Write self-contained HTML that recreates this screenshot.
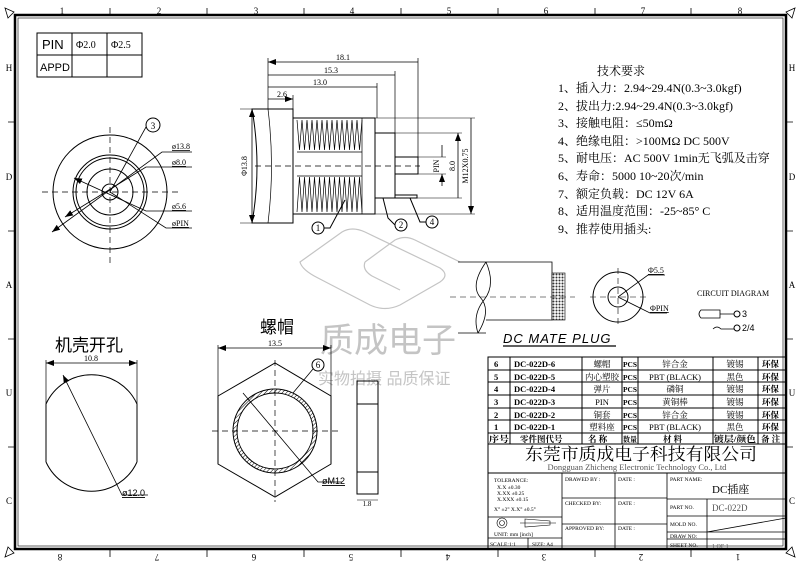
<!DOCTYPE html>
<html><head><meta charset="utf-8"><style>
html,body{margin:0;padding:0;background:#fff;}
svg{display:block;}
text{font-family:"Liberation Serif","Noto Serif CJK SC",serif;}
.s{font-family:"Liberation Sans","Noto Sans CJK SC",sans-serif;}
</style></head><body>
<svg width="800" height="565" viewBox="0 0 800 565" xmlns="http://www.w3.org/2000/svg" fill="#000">
<defs>
<pattern id="kn" width="3" height="3" patternUnits="userSpaceOnUse"><rect width="3" height="3" fill="#fff"/><circle cx="1.5" cy="1.5" r="1" fill="#333"/></pattern>
<pattern id="ht" width="3" height="3" patternUnits="userSpaceOnUse" patternTransform="rotate(45)"><rect width="3" height="3" fill="#fff"/><line x1="0" y1="0" x2="0" y2="3" stroke="#000" stroke-width="1"/></pattern>
<marker id="a" markerWidth="8" markerHeight="6" refX="8" refY="3" orient="auto-start-reverse" markerUnits="userSpaceOnUse"><path d="M0,0 L8,3 L0,6z" fill="#000"/></marker>
</defs>
<!-- watermark -->
<g fill="none" stroke="#c4c4c4" stroke-width="1.2">
<path d="M300,262 L342,232 Q352,226 365,232 L440,268 Q450,275 440,282 L400,305 Q385,312 370,305 L318,278 Q302,270 300,262z"/>
<path d="M365,262 L395,240 Q405,235 415,240 L460,262 M365,262 Q362,270 372,276 L400,290"/>
</g>
<text x="320" y="352" font-size="34" class="s" fill="#c4c4c4">质成电子</text>
<text x="318" y="384" font-size="16" class="s" fill="#c4c4c4">实物拍摄 品质保证</text>
<g fill="none" stroke="#000" stroke-width="1">
<!-- border -->
<rect x="15" y="15" width="771" height="534" stroke-width="2.5"/>
<rect x="18" y="18" width="765" height="528" stroke-width="0.6"/>
<path d="M5,8 L14,12 L8,18z M795,8 L786,12 L792,18z M5,557 L14,553 L8,547z M795,557 L786,553 L792,547z" stroke-width="0.8"/>
<path d="M110,8v7 M207,8v7 M304,8v7 M401,8v7 M498,8v7 M595,8v7 M691,8v7 M110,550v7 M207,550v7 M304,550v7 M401,550v7 M498,550v7 M595,550v7 M691,550v7
M8,122h7 M8,231h7 M8,339h7 M8,447h7 M786,122h7 M786,231h7 M786,339h7 M786,447h7" stroke-width="0.8"/>
<!-- PIN table -->
<rect x="37" y="33" width="105" height="44"/>
<path d="M72,33v44 M107,33v44 M37,55h105"/>
<!-- front view -->
<circle cx="110" cy="192" r="57"/>
<circle cx="110" cy="192" r="37"/>
<circle cx="110" cy="192" r="34"/>
<circle cx="110" cy="192" r="23"/>
<circle cx="110" cy="192" r="8"/>
<path d="M42,192h136 M110,127v136" stroke-dasharray="6,4" stroke-width="0.7"/>
<path d="M110,192 L146,127" stroke-width="0.8"/>
<path d="M52,232 L162,152 H192" marker-start="url(#a)" stroke-width="0.8"/>
<path d="M65,217 L146,167 H192" marker-start="url(#a)" stroke-width="0.8"/>
<path d="M74,178 L146,211 H192" marker-start="url(#a)" stroke-width="0.8"/>
<path d="M110,192 L166,228 H192" stroke-width="0.8"/>
<!-- side view -->
<path d="M252,109 H293 V223 H252 Q262,166 252,109z"/>
<path d="M268,109 Q275,166 268,223" stroke-width="0.7"/>
<rect x="293" y="118" width="82" height="96"/>
<path d="M297,120 l2.5,30 l2.5,-30 l2.5,30 l2.5,-30 l2.5,30 l2.5,-30 l2.5,30 l2.5,-30 l2.5,30 l2.5,-30 l2.5,30 l2.5,-30 l2.5,30 l2.5,-30 l2.5,30 l2.5,-30 l2.5,30 l2.5,-30 l2.5,30 l2.5,-30 l2.5,30 l2.5,-30 l2.5,30 l2.5,-30 l2.5,30 l2.5,-30" stroke-width="0.7"/>
<path d="M297,212 l2.5,-35 l2.5,35 l2.5,-35 l2.5,35 l2.5,-35 l2.5,35 l2.5,-35 l2.5,35 l2.5,-35 l2.5,35 l2.5,-35 l2.5,35 l2.5,-35 l2.5,35 l2.5,-35 l2.5,35 l2.5,-35 l2.5,35 l2.5,-35 l2.5,35 l2.5,-35 l2.5,35 l2.5,-35 l2.5,35 l2.5,-35 l2.5,35" stroke-width="0.7"/>
<path d="M297,152 H362 M297,176 H362 M362,118 V214" stroke-width="0.7"/>
<rect x="375" y="133" width="20" height="65"/>
<rect x="395" y="157" width="23" height="17"/>
<rect x="395" y="195" width="22" height="3"/>
<path d="M255,166 H420" stroke-dasharray="6,4" stroke-width="0.7"/>
<!-- dims -->
<path d="M268,109 V58 M418,157 V58 M395,133 V71 M377,118 V83 M293,109 V95" stroke-width="0.7"/>
<path d="M268,62 H418 M268,75 H395 M268,87 H377 M268,99 H293" marker-start="url(#a)" marker-end="url(#a)" stroke-width="0.8"/>
<path d="M252,109 V223" marker-start="url(#a)" marker-end="url(#a)" stroke-width="0.8"/>
<path d="M240,109 H293 M240,223 H293" stroke-width="0.6"/>
<path d="M418,157 H446 M418,174 H446 M395,133 H462 M395,198 H462 M375,118 H475 M375,214 H475" stroke-width="0.6"/>
<path d="M442,145 V157 M442,186 V174" marker-end="url(#a)" stroke-width="0.8"/>
<path d="M458,133 V198 M471,118 V214" marker-start="url(#a)" marker-end="url(#a)" stroke-width="0.8"/>
<!-- balloons -->
<circle cx="318" cy="228" r="6"/><path d="M324,228 H330 L345,200"/>
<circle cx="401" cy="225" r="6"/><path d="M395,225 L388,218 L383,198"/>
<circle cx="432" cy="222" r="6"/><path d="M426,222 H420 L410,198"/>
<circle cx="153" cy="125" r="7"/>
<!-- DC plug -->
<path d="M486,262 H552 V320 H486 M486,262 Q470,285 480,297 Q492,310 478,333 M486,262 Q496,285 484,300 Q472,315 478,333 M458,262 H486 M458,333 H486" stroke-width="0.8"/>
<rect x="552" y="273" width="13" height="47" fill="url(#kn)" stroke-width="0.6"/>
<path d="M450,297 H575 M590,297 H648 M618,268 V328" stroke-dasharray="6,4" stroke-width="0.6"/>
<circle cx="618" cy="297" r="25"/>
<circle cx="618" cy="297" r="10"/>
<path d="M618,297 L648,275 H665 M618,297 L650,313 H667" stroke-width="0.8"/>
<path d="M701,310 H720 V318 H701 Q697,314 701,310z M720,314 H734" stroke-width="0.8"/>
<circle cx="737" cy="314" r="3"/>
<path d="M713,329 q4,-4 8,0 H734" stroke-width="0.8"/><circle cx="737" cy="328" r="3"/>
<path d="M503,346 H616" stroke-width="1.2"/>
<!-- lower left -->
<path d="M46,404 A50,50 0 0 1 137,404 M46,462 A50,50 0 0 0 137,462 M46,404 V462 M137,404 V462"/>
<path d="M46,360 V404 M137,360 V404" stroke-width="0.7"/>
<path d="M46,363 H137" marker-start="url(#a)" marker-end="url(#a)" stroke-width="0.8"/>
<path d="M63,375 L122,495 H148" marker-start="url(#a)" stroke-width="0.8"/>
<path d="M218,396 L275,363 L331,396 V464 L275,497 L218,464z"/>
<circle cx="275" cy="431" r="42" fill="url(#ht)"/>
<circle cx="275" cy="431" r="38" fill="#fff"/>
<path d="M212,431 H338 M275,360 V502" stroke-dasharray="6,4" stroke-width="0.7"/>
<path d="M218,345 V396 M331,345 V396" stroke-width="0.7"/>
<path d="M218,348 H331" marker-start="url(#a)" marker-end="url(#a)" stroke-width="0.8"/>
<path d="M243,393 L318,482 H342" stroke-width="0.8"/>
<circle cx="318" cy="365" r="6"/><path d="M313,369 L293,393" stroke-width="0.8"/>
<rect x="357" y="381" width="21" height="113"/>
<path d="M357,404 H378 M357,472 H378"/>
<path d="M357,500 H378" stroke-width="0.6"/>
<!-- parts table -->
<rect x="488" y="357" width="298" height="192"/>
<path d="M488,370 H786 M488,382 H786 M488,395 H786 M488,408 H786 M488,420 H786 M488,433 H786 M488,444 H786 M488,473 H786"/>
<path d="M510,357 V444 M582,357 V444 M622,357 V444 M638,357 V444 M713,357 V444 M758,357 V444"/>
<path d="M562,473 V549 M615,473 V549 M667,473 V549 M562,498 H667 M562,524 H667 M667,499 H786 M667,516 H786 M667,532 H786 M667,539 H786 M707,499 V549 M488,517 H562 M488,538 H562 M528,538 V549 M707,532 L786,518" stroke-width="0.8"/>
</g>
<!-- texts -->
<g font-size="11">
<text x="42" y="49" class="s" font-size="13">PIN</text>
<text x="76" y="48" font-size="10">Φ2.0</text>
<text x="111" y="48" font-size="10">Φ2.5</text>
<text x="40" y="71" class="s" font-size="11">APPD</text>
<text x="153" y="129" font-size="9" text-anchor="middle">3</text>
<g font-size="8" text-decoration="underline"><text x="172" y="149">ø13.8</text><text x="172" y="165">ø8.0</text><text x="172" y="209">ø5.6</text><text x="172" y="226">øPIN</text></g>
<g font-size="8" text-anchor="middle"><text x="343" y="60">18.1</text><text x="331" y="73">15.3</text><text x="320" y="85">13.0</text><text x="282" y="97">2.6</text></g>
<text font-size="8" transform="translate(247,166) rotate(-90)" text-anchor="middle">Φ13.8</text>
<text font-size="8" transform="translate(439,166) rotate(-90)" text-anchor="middle">PIN</text>
<text font-size="8" transform="translate(455,166) rotate(-90)" text-anchor="middle">8.0</text>
<text font-size="8" transform="translate(468,166) rotate(-90)" text-anchor="middle">M12X0.75</text>
<g font-size="9" text-anchor="middle"><text x="318" y="231">1</text><text x="401" y="228">2</text><text x="432" y="225">4</text><text x="318" y="368">6</text></g>
<text x="597" y="75" font-size="12">技术要求</text>
<g font-size="12"><text x="558" y="92">1、插入力：2.94~29.4N(0.3~3.0kgf)</text>
<text x="558" y="110">2、拔出力:2.94~29.4N(0.3~3.0kgf)</text>
<text x="558" y="127">3、接触电阻：≤50mΩ</text>
<text x="558" y="145">4、绝缘电阻：&gt;100MΩ  DC  500V</text>
<text x="558" y="162">5、耐电压：AC  500V  1min无飞弧及击穿</text>
<text x="558" y="180">6、寿命：5000 10~20次/min</text>
<text x="558" y="198">7、额定负载：DC  12V  6A</text>
<text x="558" y="215">8、适用温度范围：-25~85° C</text>
<text x="558" y="233">9、推荐使用插头:</text></g>
<g font-size="8" text-decoration="underline"><text x="648" y="273">Φ5.5</text><text x="650" y="311">ΦPIN</text></g>
<text x="697" y="296" font-size="8">CIRCUIT DIAGRAM</text>
<text x="742" y="317" font-size="9" class="s">3</text>
<text x="742" y="331" font-size="9" class="s">2/4</text>
<text x="503" y="343" font-size="13" class="s" font-style="italic" letter-spacing="1">DC MATE PLUG</text>
<text x="55" y="351" font-size="17" class="s">机壳开孔</text>
<text x="91" y="361" font-size="8" text-anchor="middle">10.8</text>
<text x="122" y="496" font-size="9" class="s" text-decoration="underline">ø12.0</text>
<text x="260" y="333" font-size="17" class="s">螺帽</text>
<text x="275" y="346" font-size="8" text-anchor="middle">13.5</text>
<text x="322" y="484" font-size="9" class="s" text-decoration="underline">øM12</text>
<text x="367" y="506" font-size="7" text-anchor="middle">1.8</text>
<!-- table text -->
<g font-size="9">
<g class="s" font-weight="bold" font-size="8.5"><text x="494" y="367">6</text><text x="494" y="380">5</text><text x="494" y="392">4</text><text x="494" y="405">3</text><text x="494" y="418">2</text><text x="494" y="430">1</text>
<text x="514" y="367">DC-022D-6</text><text x="514" y="380">DC-022D-5</text><text x="514" y="392">DC-022D-4</text><text x="514" y="405">DC-022D-3</text><text x="514" y="418">DC-022D-2</text><text x="514" y="430">DC-022D-1</text>
<g font-size="7.5"><text x="623" y="367" textLength="14" lengthAdjust="spacingAndGlyphs">PCS</text><text x="623" y="380" textLength="14" lengthAdjust="spacingAndGlyphs">PCS</text><text x="623" y="392" textLength="14" lengthAdjust="spacingAndGlyphs">PCS</text><text x="623" y="405" textLength="14" lengthAdjust="spacingAndGlyphs">PCS</text><text x="623" y="418" textLength="14" lengthAdjust="spacingAndGlyphs">PCS</text><text x="623" y="430" textLength="14" lengthAdjust="spacingAndGlyphs">PCS</text>
<text x="623" y="442" textLength="14" lengthAdjust="spacingAndGlyphs">数量</text></g>
<text x="762" y="367">环保</text><text x="762" y="380">环保</text><text x="762" y="392">环保</text><text x="762" y="405">环保</text><text x="762" y="418">环保</text><text x="762" y="430">环保</text>
<text x="489" y="442" textLength="20" lengthAdjust="spacingAndGlyphs">序号</text><text x="520" y="442">零件图代号</text><text x="588" y="442">名 称</text><text x="663" y="442">材 料</text><text x="714" y="442" textLength="42" lengthAdjust="spacingAndGlyphs">镀层/颜色</text><text x="761" y="442">备 注</text></g>
<g text-anchor="middle" font-size="8.5"><text x="602" y="367">螺帽</text><text x="602" y="380">内心塑胶</text><text x="602" y="392">弹片</text><text x="602" y="405">PIN</text><text x="602" y="418">铜套</text><text x="602" y="430">塑料座</text>
<text x="675" y="367">锌合金</text><text x="675" y="380">PBT (BLACK)</text><text x="675" y="392">磷铜</text><text x="675" y="405">黄铜棒</text><text x="675" y="418">锌合金</text><text x="675" y="430">PBT (BLACK)</text>
<text x="735" y="367">镀锡</text><text x="735" y="380">黑色</text><text x="735" y="392">镀锡</text><text x="735" y="405">镀锡</text><text x="735" y="418">镀锡</text><text x="735" y="430">黑色</text></g>
</g>
<text x="525" y="460" font-size="17" textLength="232" lengthAdjust="spacingAndGlyphs">东莞市质成电子科技有限公司</text>
<text x="637" y="470" font-size="8.5" text-anchor="middle" fill="#555">Dongguan Zhicheng Electronic Technology Co., Ltd</text>
<g class="s" font-size="5.5"><text x="494" y="482">TOLERANCE:</text><text x="497" y="489">X.X   ±0.30</text><text x="497" y="495">X.XX  ±0.25</text><text x="497" y="501">X.XXX ±0.15</text><text x="494" y="511">X° ±2°    X.X° ±0.5°</text>
<text x="494" y="536">UNIT: mm [inch]</text><text x="490" y="546">SCALE:1:1</text><text x="532" y="546">SIZE: A4</text>
<text x="565" y="481">DRAWED BY :</text><text x="618" y="481">DATE :</text><text x="565" y="505">CHECKED BY:</text><text x="618" y="505">DATE :</text><text x="565" y="530">APPROVED BY:</text><text x="618" y="530">DATE :</text>
<text x="670" y="481">PART NAME:</text><text x="670" y="509">PART NO.</text><text x="670" y="526">MOLD NO.</text><text x="670" y="538">DRAW NO:</text><text x="670" y="547">SHEET NO.</text></g>
<text x="712" y="493" font-size="11">DC插座</text>
<text x="712" y="511" font-size="9" fill="#555">DC-022D</text>
<text x="712" y="548" font-size="6" fill="#555">1 OF 1</text>
<g fill="none" stroke="#000" stroke-width="0.6"><circle cx="502" cy="523" r="5"/><circle cx="502" cy="523" r="2.5"/><path d="M520,523 H556 M525,519 L550,521 V525 L525,527z"/></g>
<!-- border labels -->
<g class="s" font-size="9" text-anchor="middle">
<text x="62" y="14">1</text><text x="159" y="14">2</text><text x="256" y="14">3</text><text x="352" y="14">4</text><text x="449" y="14">5</text><text x="546" y="14">6</text><text x="643" y="14">7</text><text x="740" y="14">8</text>
<g transform="rotate(180 400 557)"><text x="62" y="560">1</text><text x="159" y="560">2</text><text x="256" y="560">3</text><text x="352" y="560">4</text><text x="449" y="560">5</text><text x="546" y="560">6</text><text x="643" y="560">7</text><text x="740" y="560">8</text></g>
<text x="9" y="71">H</text><text x="9" y="180">D</text><text x="9" y="288">A</text><text x="9" y="396">U</text><text x="9" y="504">C</text>
<text x="792" y="71">H</text><text x="792" y="180">D</text><text x="792" y="288">A</text><text x="792" y="396">U</text><text x="792" y="504">C</text>
</g>
</svg>
</body></html>
